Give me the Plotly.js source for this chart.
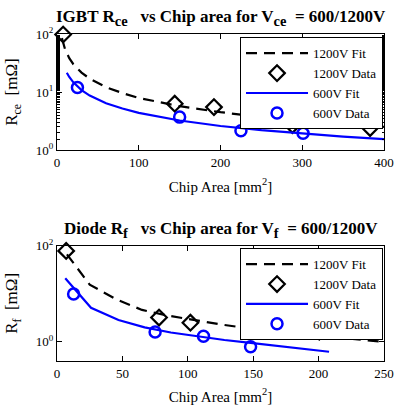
<!DOCTYPE html>
<html><head><meta charset="utf-8">
<script src="https://cdn.plot.ly/plotly-3.0.1.min.js"></script>
<style>
body{margin:0;padding:0;background:#fff}
#chart{width:396px;height:408px}
</style>
</head><body><div id="chart"></div>
<script>
// Top: IGBT Rce
const igbtFit1200X = [6, 10, 15, 20, 30, 40, 60, 80, 100, 150, 200, 250, 300, 350, 400];
const igbtFit1200Y = [85, 53.8, 38.4, 30.2, 21.6, 17.0, 12.1, 9.6, 7.9, 5.7, 4.5, 3.7, 3.2, 2.8, 2.52];
const igbtData1200X = [7.5, 144, 192, 288, 383];
const igbtData1200Y = [98, 6.3, 5.5, 2.7, 2.4];
const igbtFit600X = [12, 15, 20, 25, 30, 40, 60, 80, 100, 150, 200, 250, 300, 350, 400];
const igbtFit600Y = [21.5, 18.2, 14.7, 12.4, 10.8, 8.7, 6.4, 5.2, 4.38, 3.23, 2.6, 2.2, 1.92, 1.71, 1.55];
const igbtData600X = [25, 150, 225, 301];
const igbtData600Y = [12.0, 3.7, 2.15, 1.95];

// Bottom: Diode Rf
const diodeFit1200X = [7.6, 25, 45, 65, 85, 105, 125, 150, 175, 200, 225, 250];
const diodeFit1200Y = [66, 15.5, 7.7, 4.6, 3.5, 2.8, 2.3, 1.85, 1.53, 1.32, 1.14, 1.0];
const diodeData1200X = [7, 78, 102, 151.5, 200.5];
const diodeData1200Y = [78, 3.2, 2.5, 1.9, 1.62];
const diodeFit600X = [6.3, 26, 47, 67, 87, 108, 128, 148, 168, 188, 208];
const diodeFit600Y = [21, 5.1, 2.83, 2.0, 1.56, 1.28, 1.09, 0.95, 0.83, 0.72, 0.62];
const diodeData600X = [12.7, 75, 112, 148];
const diodeData600Y = [9.9, 1.6, 1.31, 0.79];

const names = ['1200V Fit', '1200V Data', '600V Fit', '600V Data'];
const FONT = 'Liberation Serif, Times New Roman, serif';
const BLUE = 'rgb(0,0,255)';

function set(xa, ya, leg, fx1, fy1, dx1, dy1, fx6, fy6, dx6, dy6) {
  return [
    {x: fx1, y: fy1, xaxis: xa, yaxis: ya, legend: leg, name: names[0], mode: 'lines',
     line: {color: 'black', width: 2.2, dash: '11px,7px'}},
    {x: dx1, y: dy1, xaxis: xa, yaxis: ya, legend: leg, name: names[1], mode: 'markers', cliponaxis: false,
     marker: {symbol: 'diamond-open', size: 12, color: 'black', line: {width: 2.2, color: 'black'}}},
    {x: fx6, y: fy6, xaxis: xa, yaxis: ya, legend: leg, name: names[2], mode: 'lines',
     line: {color: BLUE, width: 2.2}},
    {x: dx6, y: dy6, xaxis: xa, yaxis: ya, legend: leg, name: names[3], mode: 'markers', cliponaxis: false,
     marker: {symbol: 'circle-open', size: 11, color: BLUE, line: {width: 2.5, color: BLUE}}}
  ];
}

const data = [].concat(
  set('x', 'y', 'legend', igbtFit1200X, igbtFit1200Y, igbtData1200X, igbtData1200Y, igbtFit600X, igbtFit600Y, igbtData600X, igbtData600Y),
  set('x2', 'y2', 'legend2', diodeFit1200X, diodeFit1200Y, diodeData1200X, diodeData1200Y, diodeFit600X, diodeFit600Y, diodeData600X, diodeData600Y)
);

const axBase = {showline: true, linecolor: 'black', linewidth: 1, mirror: 'ticks', ticks: 'inside',
  ticklen: 5, tickcolor: 'black', showgrid: false, zeroline: false,
  tickfont: {family: FONT, size: 13, color: 'black'}};

function sub(t) {
  return '<sub><span style="font-size:14.5px">' + t + '</span></sub>';
}

const layout = {
  width: 396, height: 408,
  margin: {l: 57, r: 12, t: 34, b: 47},
  paper_bgcolor: 'white', plot_bgcolor: 'white',
  font: {family: FONT, color: 'black'},
  showlegend: true,
  xaxis: Object.assign({}, axBase, {domain: [0, 1], anchor: 'y', range: [0, 400], tickvals: [0, 100, 200, 300, 400],
    title: {text: 'Chip Area [mm<sup>2</sup>]', font: {family: FONT, size: 15}, standoff: 12}}),
  yaxis: Object.assign({}, axBase, {domain: [0.645, 1], anchor: 'x', type: 'log', range: [0, 2],
    tickvals: [1, 10, 100], ticktext: ['10<sup>0</sup>', '10<sup>1</sup>', '10<sup>2</sup>'],
    minor: {ticks: 'inside', ticklen: 2.5, tickcolor: 'black', showgrid: false},
    title: {text: 'R<sub>ce</sub>&nbsp; [mΩ]', font: {family: FONT, size: 17}, standoff: 13}}),
  xaxis2: Object.assign({}, axBase, {domain: [0, 1], anchor: 'y2', range: [0, 250], tickvals: [0, 50, 100, 150, 200, 250],
    title: {text: 'Chip Area [mm<sup>2</sup>]', font: {family: FONT, size: 15}, standoff: 11}}),
  yaxis2: Object.assign({}, axBase, {domain: [0, 0.3526], anchor: 'x2', type: 'log', range: [-0.4, 2],
    tickvals: [1, 100], ticktext: ['10<sup>0</sup>', '10<sup>2</sup>'],
    title: {text: 'R<sub>f</sub>&nbsp; [mΩ]', font: {family: FONT, size: 17}, standoff: 13}}),
  legend: {x: 0.997, xanchor: 'right', y: 0.99, yanchor: 'top', bgcolor: 'white', bordercolor: 'black', borderwidth: 1,
    font: {family: FONT, size: 13}, tracegroupgap: 0, itemwidth: 62},
  legend2: {x: 0.997, xanchor: 'right', y: 0.345, yanchor: 'top', bgcolor: 'white', bordercolor: 'black', borderwidth: 1,
    font: {family: FONT, size: 13}, tracegroupgap: 0, itemwidth: 62},
  annotations: [
    {text: '<b>IGBT R' + sub('ce') + '&nbsp;&nbsp; vs Chip area for V' + sub('ce') + '&nbsp; = 600/1200V</b>', xref: 'paper', yref: 'paper',
     x: 0.5, y: 1.0, yanchor: 'bottom', xanchor: 'center', yshift: 3, showarrow: false, font: {family: FONT, size: 17}},
    {text: '<b>Diode R' + sub('f') + '&nbsp;&nbsp; vs Chip area for V' + sub('f') + '&nbsp; = 600/1200V</b>', xref: 'paper', yref: 'paper',
     x: 0.5, y: 0.3526, yanchor: 'bottom', xanchor: 'center', yshift: 3, showarrow: false, font: {family: FONT, size: 17}}
  ]
};

Plotly.newPlot('chart', data, layout, {displayModeBar: false, staticPlot: true});
</script></body></html>
